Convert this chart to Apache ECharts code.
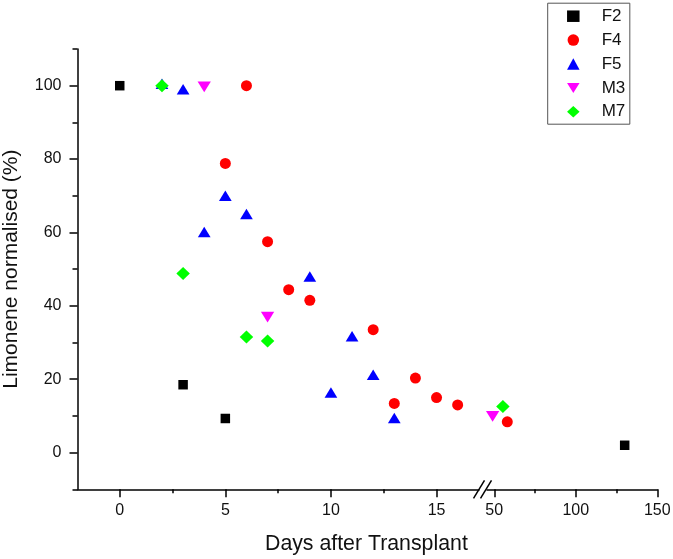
<!DOCTYPE html>
<html>
<head>
<meta charset="utf-8">
<script src="https://cdn.jsdelivr.net/npm/echarts@6/dist/echarts.min.js"></script>
<style>html,body{margin:0;padding:0;background:#fff;}#c{width:673px;height:559px;}</style>
</head>
<body>
<div id="c"></div>
<script>
// ---- data ----
const seriesNames = ['F2', 'F4', 'F5', 'M3', 'M7'];
const F2_days = [0, 3, 5, 130];
const F2_vals = [100, 18.5, 9.3, 2.0];
const F4_days = [6, 5, 7, 8, 9, 12, 13, 14, 15, 16, 58];
const F4_vals = [100, 78.8, 57.5, 44.4, 41.5, 33.5, 13.4, 20.3, 15.0, 13.0, 8.4];
const F5_days = [2, 3, 5, 6, 4, 9, 11, 10, 12, 13];
const F5_vals = [100.5, 99, 70, 65, 60.1, 48, 31.7, 16.4, 21.2, 9.4];
const M3_days = [4, 7, 49];
const M3_vals = [99.7, 36.9, 9.9];
const M7_days = [2, 3, 6, 7, 55.3];
const M7_vals = [100, 48.8, 31.5, 30.4, 12.6];

const xLabels1 = [0, 5, 10, 15];
const xMinor1 = [2.5, 7.5, 12.5];
const xLabels2 = [50, 100, 150];
const xMinor2 = [75, 125];
const yLabels = [0, 20, 40, 60, 80, 100];
const yMinor = [-10, 10, 30, 50, 70, 90, 110];

const BREAK_LO = 17.2;   // end of first segment
const BREAK_HI = 43.1;   // start of second segment

// ---- styles ----
const styles = {
  F2: { symbol: 'rect', symbolSize: 9.5, color: '#000000' },
  F4: { symbol: 'circle', symbolSize: 11, color: '#ff0000' },
  F5: { symbol: 'triangle', symbolSize: [12.7, 10.5], color: '#0000ff' },
  M3: { symbol: 'path://M0,0 L10,0 L5,8 Z', symbolSize: [13.3, 10.7], color: '#ff00ff' },
  M7: { symbol: 'diamond', symbolSize: [13.5, 13], color: '#00ff00' }
};
const dataMap = {
  F2: [F2_days, F2_vals], F4: [F4_days, F4_vals], F5: [F5_days, F5_vals],
  M3: [M3_days, M3_vals], M7: [M7_days, M7_vals]
};

const series = [];
seriesNames.forEach(function (name) {
  const d = dataMap[name][0], v = dataMap[name][1];
  const early = [], late = [];
  d.forEach(function (x, i) { (x <= BREAK_LO ? early : late).push([x, v[i]]); });
  const st = styles[name];
  const base = { name: name, type: 'scatter', symbol: st.symbol, symbolSize: st.symbolSize,
    itemStyle: { color: st.color, opacity: 1 }, emphasis: { disabled: true }, silent: true };
  series.push(Object.assign({}, base, { xAxisIndex: 0, yAxisIndex: 0, data: early }));
  series.push(Object.assign({}, base, { xAxisIndex: 2, yAxisIndex: 2, data: late }));
});

const FONT = 'Liberation Sans, Arial, sans-serif';
const lineStyle = { color: '#000', width: 1.5 };

const option = {
  animation: false,
  textStyle: { fontFamily: FONT },
  title: {
    text: 'Days after Transplant', left: 265, top: 534, padding: 0,
    textStyle: { fontFamily: FONT, fontSize: 21.3, fontWeight: 'normal', color: '#111' }
  },
  legend: {
    data: seriesNames, orient: 'vertical', left: 547.7, top: 3.2,
    padding: [4, 4.5, 3.4, 19.35], itemWidth: 12.5, itemHeight: 11.5, itemGap: 5.9,
    borderColor: '#555', borderWidth: 1, backgroundColor: '#fff',
    textStyle: { fontFamily: FONT, fontSize: 17, lineHeight: 18, color: '#111', padding: [0, 0, 0, 17.15] },
    selectedMode: false
  },
  grid: [
    { left: 77.5, top: 49, width: 405.5, height: 440.3, containLabel: false, outerBoundsMode: 'none' },
    { left: 483, top: 49, width: 174.3, height: 440.3, containLabel: false, outerBoundsMode: 'none' }
  ],
  xAxis: [
    { type: 'value', gridIndex: 0, min: -2, max: BREAK_LO,
      axisLine: { show: true, lineStyle: lineStyle, onZero: false },
      axisTick: { show: true, inside: false, length: 8, lineStyle: lineStyle, customValues: xLabels1 },
      axisLabel: { show: true, customValues: xLabels1, margin: 13, fontSize: 16, color: '#111', fontFamily: FONT },
      splitLine: { show: false } },
    { type: 'value', gridIndex: 0, min: -2, max: BREAK_LO, position: 'bottom',
      axisLine: { show: false, onZero: false },
      axisTick: { show: true, length: 4, lineStyle: lineStyle, customValues: xMinor1 },
      axisLabel: { show: false }, splitLine: { show: false } },
    { type: 'value', gridIndex: 1, min: BREAK_HI, max: 150,
      axisLine: { show: true, lineStyle: lineStyle, onZero: false },
      axisTick: { show: true, length: 8, lineStyle: lineStyle, customValues: xLabels2 },
      axisLabel: { show: true, customValues: xLabels2, margin: 13, fontSize: 16, color: '#111', fontFamily: FONT },
      splitLine: { show: false } },
    { type: 'value', gridIndex: 1, min: BREAK_HI, max: 150, position: 'bottom',
      axisLine: { show: false, onZero: false },
      axisTick: { show: true, length: 4, lineStyle: lineStyle, customValues: xMinor2 },
      axisLabel: { show: false }, splitLine: { show: false } }
  ],
  yAxis: [
    { type: 'value', gridIndex: 0, min: -10, max: 110,
      name: 'Limonene normalised (%)', nameLocation: 'middle', nameRotate: 90, nameGap: 56,
      nameTextStyle: { fontSize: 21, color: '#111', fontFamily: FONT },
      axisLine: { show: true, lineStyle: lineStyle, onZero: false },
      axisTick: { show: true, length: 8, lineStyle: lineStyle, customValues: yLabels },
      axisLabel: { show: true, customValues: yLabels, margin: 16, fontSize: 16, color: '#111', fontFamily: FONT },
      splitLine: { show: false } },
    { type: 'value', gridIndex: 0, min: -10, max: 110, position: 'left',
      axisLine: { show: false, onZero: false },
      axisTick: { show: true, length: 5, lineStyle: lineStyle, customValues: yMinor },
      axisLabel: { show: false }, splitLine: { show: false } },
    { type: 'value', gridIndex: 1, min: -10, max: 110, show: false }
  ],
  series: series
};

const chart = echarts.init(document.getElementById('c'), null, { renderer: 'canvas' });
chart.setOption(option);

// axis break marks, positioned from the axis scales
const pA = chart.convertToPixel({ xAxisIndex: 0, yAxisIndex: 0 }, [BREAK_LO, -10]);
const bx = pA[0], by = pA[1];
chart.setOption({
  graphic: [
    { type: 'rect', shape: { x: bx - 3.5, y: by - 2, width: 7, height: 4 }, style: { fill: '#fff' }, z: 100 },
    { type: 'line', shape: { x1: bx - 9.5, y1: by + 9, x2: bx + 1.5, y2: by - 9 }, style: { stroke: '#000', lineWidth: 1.5 }, z: 101 },
    { type: 'line', shape: { x1: bx - 2.5, y1: by + 9, x2: bx + 8.5, y2: by - 9 }, style: { stroke: '#000', lineWidth: 1.5 }, z: 101 }
  ]
});
</script>
</body>
</html>
